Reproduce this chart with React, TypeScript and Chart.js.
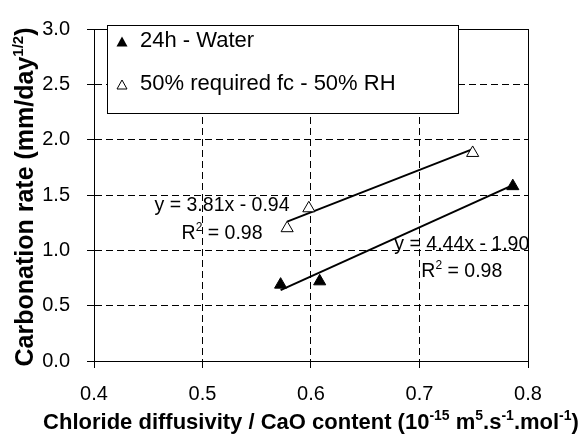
import React, { useEffect, useRef } from "react";
import { Chart, registerables } from "chart.js";

Chart.register(...registerables);

// ---- data ----
const seriesLabels = ["24h - Water", "50% required fc - 50% RH"];
const waterX = [0.572, 0.608, 0.786];
const waterY = [0.69, 0.72, 1.58];
const rhX = [0.578, 0.598, 0.749];
const rhY = [1.2, 1.38, 1.88];
// fitted trendline end points (as drawn)
const waterFitX = [0.572, 0.786];
const waterFitY = [0.64, 1.59];
const rhFitX = [0.578, 0.749];
const rhFitY = [1.26, 1.914];
const xTicks = [0.4, 0.5, 0.6, 0.7, 0.8];
const yTicks = [0, 0.5, 1.0, 1.5, 2.0, 2.5, 3.0];
const eqText = ["y = 4.44x - 1.90", "y = 3.81x - 0.94"];
const r2Value = ["0.98", "0.98"];

type Seg = { t: string; sup?: boolean };
const xTitle: Seg[] = [
  { t: "Chloride diffusivity / CaO content (10" },
  { t: "-15", sup: true },
  { t: " m" },
  { t: "5", sup: true },
  { t: ".s" },
  { t: "-1", sup: true },
  { t: ".mol" },
  { t: "-1", sup: true },
  { t: ")" },
];
const yTitle: Seg[] = [
  { t: "Carbonation rate (mm/day" },
  { t: "1/2", sup: true },
  { t: ")" },
];

// ---- layout / style constants ----
const FAMILY = '"Liberation Sans", Arial, Helvetica, sans-serif';
const eqAnchors = [
  { x: 0.739, y: 1.05, ry: 0.82 },
  { x: 0.518, y: 1.405, ry: 1.165 },
];
const legendBox = { left: 107, top: 25, right: 458, bottom: 113 };
const legendRows = [
  { y: 40.5, markerX: 122, markerY: 41.5 },
  { y: 83.5, markerX: 122, markerY: 84.5 },
];

function fontStr(size: number, bold: boolean) {
  return `${bold ? "bold " : ""}${size}px ${FAMILY}`;
}

function richWidth(ctx: CanvasRenderingContext2D, segs: Seg[], size: number, supSize: number, bold: boolean) {
  let w = 0;
  for (const s of segs) {
    ctx.font = fontStr(s.sup ? supSize : size, bold);
    w += ctx.measureText(s.t).width;
  }
  return w;
}

function drawRich(
  ctx: CanvasRenderingContext2D,
  segs: Seg[],
  x: number,
  y: number,
  size: number,
  supSize: number,
  rise: number,
  bold: boolean
) {
  ctx.textAlign = "left";
  ctx.textBaseline = "alphabetic";
  for (const s of segs) {
    ctx.font = fontStr(s.sup ? supSize : size, bold);
    ctx.fillText(s.t, x, s.sup ? y - rise : y);
    x += ctx.measureText(s.t).width;
  }
}

function triangle(ctx: CanvasRenderingContext2D, cx: number, cy: number, w: number, h: number, filled: boolean) {
  ctx.beginPath();
  ctx.moveTo(cx, cy - h / 2);
  ctx.lineTo(cx + w / 2, cy + h / 2);
  ctx.lineTo(cx - w / 2, cy + h / 2);
  ctx.closePath();
  if (filled) {
    ctx.fillStyle = "#000";
    ctx.fill();
  } else {
    ctx.fillStyle = "#fff";
    ctx.fill();
    ctx.lineWidth = 1;
    ctx.strokeStyle = "#000";
    ctx.stroke();
  }
}

const decorPlugin = {
  id: "decor",
  afterDraw(chart: any) {
    const { ctx, chartArea: a, scales } = chart;
    const xs = scales.x;
    const ys = scales.y;
    ctx.save();
    // plot frame
    ctx.strokeStyle = "#000";
    ctx.lineWidth = 1;
    ctx.setLineDash([]);
    ctx.strokeRect(Math.round(a.left) + 0.5, Math.round(a.top) + 0.5, Math.round(a.right - a.left), Math.round(a.bottom - a.top));

    // legend
    ctx.fillStyle = "#fff";
    ctx.fillRect(legendBox.left, legendBox.top, legendBox.right - legendBox.left, legendBox.bottom - legendBox.top);
    ctx.strokeRect(legendBox.left + 0.5, legendBox.top + 0.5, legendBox.right - legendBox.left, legendBox.bottom - legendBox.top);
    legendRows.forEach((r, i) => {
      triangle(ctx, r.markerX, r.markerY, i === 0 ? 11 : 10, i === 0 ? 10 : 9, i === 0);
      ctx.fillStyle = "#000";
      ctx.font = fontStr(22, false);
      ctx.textAlign = "left";
      ctx.textBaseline = "middle";
      ctx.fillText(seriesLabels[i], 140, r.y);
    });

    // equations
    ctx.fillStyle = "#000";
    eqAnchors.forEach((p, i) => {
      const cx = xs.getPixelForValue(p.x);
      const cy = ys.getPixelForValue(p.y);
      ctx.font = fontStr(19.5, false);
      ctx.textAlign = "center";
      ctx.textBaseline = "middle";
      ctx.fillText(eqText[i], cx, cy);
      const segs: Seg[] = [{ t: "R" }, { t: "2", sup: true }, { t: " = " + r2Value[i] }];
      const w = richWidth(ctx, segs, 19.5, 12, false);
      const ry = ys.getPixelForValue(p.ry) + 7;
      drawRich(ctx, segs, cx - w / 2, ry, 19.5, 12, 8, false);
    });

    // x title
    {
      const w = richWidth(ctx, xTitle, 22, 14, true);
      const cx = (a.left + a.right) / 2;
      drawRich(ctx, xTitle, cx - w / 2, 429, 22, 14, 9, true);
    }
    // y title
    {
      const w = richWidth(ctx, yTitle, 25, 15, true);
      const cy = (a.top + a.bottom) / 2 + 2;
      ctx.translate(33, cy);
      ctx.rotate(-Math.PI / 2);
      drawRich(ctx, yTitle, -w / 2, 0, 25, 15, 10, true);
    }
    ctx.restore();
  },
};

export default function App() {
  const ref = useRef<HTMLCanvasElement>(null);
  useEffect(() => {
    const canvas = ref.current;
    if (!canvas) return;
    const gridOpts = {
      color: "#000",
      lineWidth: 1,
      drawTicks: true,
      tickLength: 7,
      tickColor: "#000",
      tickWidth: 1,
      tickBorderDash: [],
    };
    const borderOpts = { display: true, color: "#000", width: 1, dash: [7, 4] };
    const chart = new Chart(canvas, {
      type: "scatter",
      data: {
        datasets: [
          {
            label: seriesLabels[0],
            data: waterX.map((x, i) => ({ x, y: waterY[i] })),
            pointStyle: "triangle",
            pointRadius: 7,
            backgroundColor: "#000",
            borderColor: "#000",
            borderWidth: 1,
            showLine: false,
          },
          {
            label: seriesLabels[1],
            data: rhX.map((x, i) => ({ x, y: rhY[i] })),
            pointStyle: "triangle",
            pointRadius: 7,
            backgroundColor: "#fff",
            borderColor: "#000",
            borderWidth: 1,
            showLine: false,
          },
          {
            label: "fit water",
            data: waterFitX.map((x, i) => ({ x, y: waterFitY[i] })),
            showLine: true,
            pointRadius: 0,
            borderColor: "#000",
            borderWidth: 2,
            fill: false,
          },
          {
            label: "fit rh",
            data: rhFitX.map((x, i) => ({ x, y: rhFitY[i] })),
            showLine: true,
            pointRadius: 0,
            borderColor: "#000",
            borderWidth: 2,
            fill: false,
          },
        ],
      },
      options: {
        responsive: false,
        animation: false,
        layout: { padding: { left: 0, top: 13, right: 59, bottom: 0 } },
        plugins: {
          legend: { display: false },
          tooltip: { enabled: false },
        },
        scales: {
          x: {
            type: "linear",
            min: 0.4,
            max: 0.8,
            afterBuildTicks: (s: any) => {
              s.ticks = xTicks.map((v) => ({ value: v }));
            },
            afterFit: (s: any) => {
              s.height = 75;
            },
            grid: gridOpts,
            border: borderOpts,
            ticks: {
              color: "#000",
              padding: 14,
              font: { family: FAMILY, size: 20 },
              maxRotation: 0,
              callback: (v: any) => Number(v).toFixed(1),
            },
          },
          y: {
            type: "linear",
            min: 0,
            max: 3,
            afterBuildTicks: (s: any) => {
              s.ticks = yTicks.map((v) => ({ value: v }));
            },
            afterFit: (s: any) => {
              s.width = 94;
            },
            grid: gridOpts,
            border: borderOpts,
            ticks: {
              color: "#000",
              padding: 17,
              font: { family: FAMILY, size: 20 },
              callback: (v: any) => Number(v).toFixed(1),
            },
          },
        },
      } as any,
      plugins: [decorPlugin],
    });
    return () => chart.destroy();
  }, []);
  return (
    <div style={{ position: "fixed", left: 0, top: 0, width: 587, height: 436, background: "#fff" }}>
      <canvas ref={ref} width={587} height={436} style={{ display: "block" }} />
    </div>
  );
}
